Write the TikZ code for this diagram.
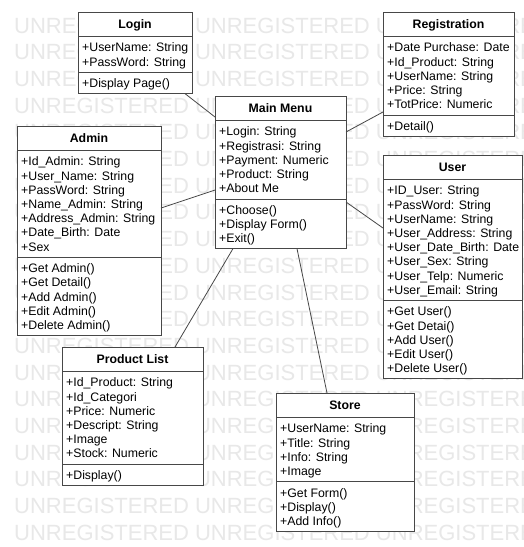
\documentclass[tikz,border=0pt]{standalone}
\usepackage{fontspec}
\setmainfont{Liberation Sans}

% strut that fixes the height of the first member line
\newcommand{\mstrut}{\rule{0pt}{11.5pt}}

% \umlclass{name}{x}{y}{width}{title}{#attrs}{attrs}{#ops}{ops}
\newcommand{\umlclass}[9]{%
  \pgfmathsetmacro{\attrh}{#6*14.2+8}%
  \pgfmathsetmacro{\opsh}{#8*14.2+7}%
  \pgfmathsetmacro{\classh}{24+\attrh+\opsh}%
  \pgfmathsetmacro{\splitb}{24+\attrh}%
  \pgfmathsetmacro{\attrtop}{24+(\attrh-(#6-1)*14.2)/2+4.5-11.5}%
  \pgfmathsetmacro{\opstop}{24+\attrh+(\opsh-(#8-1)*14.2)/2+4.5-11.5}%
  \node[classframe, minimum width=#4pt, minimum height=\classh pt, anchor=north west] (#1) at (#2,#3) {};
  \draw[classline] ([yshift=-24pt]#1.north west) -- ([yshift=-24pt]#1.north east);
  \draw[classline] ([yshift=-\splitb pt]#1.north west) -- ([yshift=-\splitb pt]#1.north east);
  \node[classtitle] (#1-title) at ([yshift=-12pt]#1.north) {#5};
  \node[members] (#1-attrs) at ([xshift=4pt,yshift=-\attrtop pt]#1.north west) {\mstrut #7};
  \node[members] (#1-ops) at ([xshift=4pt,yshift=-\opstop pt]#1.north west) {\mstrut #9};
}

\begin{document}
\begin{tikzpicture}[x=1pt,y=-1pt,
  classframe/.style={draw=black!72, fill=white, line width=0.9pt, inner sep=0pt, outer sep=0pt},
  classline/.style={draw=black!72, line width=0.9pt},
  classtitle/.style={font=\fontsize{12.3}{14.2}\selectfont\bfseries, inner sep=0pt,
    text height=9pt, text depth=0pt, anchor=center},
  members/.style={font=\fontsize{12.3}{14.2}\selectfont, align=left, inner sep=0pt, anchor=north west},
  link/.style={draw=black!72, line width=0.8pt},
  watermark/.style={font=\fontsize{22}{22}\selectfont, text=black!9, inner sep=0pt, anchor=base west}
]
\useasboundingbox (0,0) rectangle (524,547);

% background with the repeated evaluation stamp
\begin{scope}
  \clip (0,0) rectangle (524,547);
  \fill[white] (0,0) rectangle (524,547);
  \foreach \r in {0,...,19}
    \node[watermark] at (14,33+\r*26.7) {UNREGISTERED UNREGISTERED UNREGISTERED};
\end{scope}

% classes
\umlclass{login}{78}{12}{114}{Login}{2}{+UserName: String\\+PassWord: String}{1}{+Display Page()}
\umlclass{reg}{383}{12}{131}{Registration}{5}{+Date Purchase: Date\\+Id\_Product: String\\+UserName: String\\+Price: String\\+TotPrice: Numeric}{1}{+Detail()}
\umlclass{menu}{215}{96}{131}{Main Menu}{5}{+Login: String\\+Registrasi: String\\+Payment: Numeric\\+Product: String\\+About Me}{3}{+Choose()\\+Display Form()\\+Exit()}
\umlclass{admin}{17}{126}{144}{Admin}{7}{+Id\_Admin: String\\+User\_Name: String\\+PassWord: String\\+Name\_Admin: String\\+Address\_Admin: String\\+Date\_Birth: Date\\+Sex}{5}{+Get Admin()\\+Get Detail()\\+Add Admin()\\+Edit Admin()\\+Delete Admin()}
\umlclass{user}{383}{155}{139}{User}{8}{+ID\_User: String\\+PassWord: String\\+UserName: String\\+User\_Address: String\\+User\_Date\_Birth: Date\\+User\_Sex: String\\+User\_Telp: Numeric\\+User\_Email: String}{5}{+Get User()\\+Get Detai()\\+Add User()\\+Edit User()\\+Delete User()}
\umlclass{prod}{62}{347}{141}{Product List}{6}{+Id\_Product: String\\+Id\_Categori\\+Price: Numeric\\+Descript: String\\+Image\\+Stock: Numeric}{1}{+Display()}
\umlclass{store}{276}{393}{138}{Store}{4}{+UserName: String\\+Title: String\\+Info: String\\+Image}{3}{+Get Form()\\+Display()\\+Add Info()}

% associations to the main menu
\draw[link] ([xshift=107pt]login.south west) -- ([yshift=-21pt]menu.north west);
\draw[link] ([yshift=-100pt]reg.north west) -- ([yshift=-36pt]menu.north east);
\draw[link] ([yshift=-82pt]admin.north east) -- ([yshift=-94pt]menu.north west);
\draw[link] ([yshift=-73pt]user.north west) -- ([yshift=-106pt]menu.north east);
\draw[link] ([xshift=113pt]prod.north west) -- ([xshift=18pt]menu.south west);
\draw[link] ([xshift=51pt]store.north west) -- ([xshift=82pt]menu.south west);
\end{tikzpicture}
\end{document}
